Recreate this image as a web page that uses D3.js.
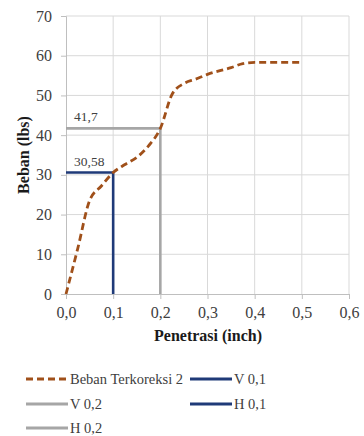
<!DOCTYPE html>
<html>
<head>
<meta charset="utf-8">
<script src="https://cdn.jsdelivr.net/npm/d3@7/dist/d3.min.js"></script>
<style>
  body { margin: 0; background: #fff; }
  svg { display: block; }
</style>
</head>
<body>
<svg id="chart" width="364" height="436"></svg>
<script>
// Penetration (inch) and corrected load (lbs)
const penetrasi = [0, 0.025, 0.05, 0.075, 0.1, 0.125, 0.15, 0.175, 0.2, 0.225, 0.25, 0.275, 0.3, 0.35, 0.375, 0.4, 0.45, 0.5];
const bebanTerkoreksi = [0, 11.5, 23.5, 27.2, 30.58, 32.6, 34.4, 37.3, 41.7, 50.3, 53.0, 54.1, 55.3, 57.0, 58.0, 58.3, 58.3, 58.3];

// Reference reads at 0.1" and 0.2"
const refX = [0.1, 0.2];
const refY = [30.58, 41.7];
const refLabels = ["30,58", "41,7"];

const xTicks = [0, 0.1, 0.2, 0.3, 0.4, 0.5, 0.6];
const yTicks = [0, 10, 20, 30, 40, 50, 60, 70];
const legendNames = ["Beban Terkoreksi 2", "V 0,1", "V 0,2", "H 0,1", "H 0,2"];

const FONT = "'Liberation Serif', 'Times New Roman', serif";
const svg = d3.select("#chart");
const x = d3.scaleLinear().domain([0, 0.6]).range([66, 349]);
const y = d3.scaleLinear().domain([0, 70]).range([294, 16]);

const fmtX = d => d.toFixed(1).replace(".", ",");

// gridlines
svg.append("g").selectAll("line").data(yTicks.slice(1)).join("line")
  .attr("x1", x(0)).attr("x2", x(0.6))
  .attr("y1", d => y(d)).attr("y2", d => y(d))
  .attr("stroke", "#d9d9d9").attr("stroke-width", 1);
svg.append("g").selectAll("line").data(xTicks.slice(1)).join("line")
  .attr("x1", d => x(d)).attr("x2", d => x(d))
  .attr("y1", y(0)).attr("y2", y(70))
  .attr("stroke", "#d9d9d9").attr("stroke-width", 1);

// axes
const yAxis = svg.append("g").attr("transform", `translate(${x(0)},0)`)
  .call(d3.axisLeft(y).tickValues(yTicks).tickSize(5).tickPadding(9).tickFormat(d3.format("d")));
const xAxis = svg.append("g").attr("transform", `translate(0,${y(0)})`)
  .call(d3.axisBottom(x).tickValues(xTicks).tickSize(5).tickPadding(8).tickFormat(fmtX));
[yAxis, xAxis].forEach(g => {
  g.attr("font-family", null).attr("font-size", null);
  g.select(".domain").attr("stroke", "#bfbfbf");
  g.selectAll(".tick line").attr("stroke", "#bfbfbf");
  g.selectAll(".tick text").attr("fill", "#404040")
    .style("font-family", FONT).style("font-size", "16px");
});

// axis titles
svg.append("text").attr("x", 208).attr("y", 341).attr("text-anchor", "middle")
  .style("font-family", FONT).style("font-size", "16px").style("font-weight", "bold")
  .attr("fill", "#1a1a1a").text("Penetrasi (inch)");
svg.append("text").attr("transform", `translate(29,${(y(0) + y(70)) / 2}) rotate(-90)`)
  .attr("text-anchor", "middle")
  .style("font-family", FONT).style("font-size", "16px").style("font-weight", "bold")
  .attr("fill", "#1a1a1a").text("Beban (lbs)");

const blue = "#1f3a78", gray = "#a6a6a6", brown = "#a0501a";
const refColors = [blue, gray];

// vertical and horizontal reference lines
refX.forEach((px, i) => {
  svg.append("line").attr("x1", x(px)).attr("x2", x(px)).attr("y1", y(0)).attr("y2", y(refY[i]))
    .attr("stroke", refColors[i]).attr("stroke-width", 2.6);
  svg.append("line").attr("x1", x(0)).attr("x2", x(px)).attr("y1", y(refY[i])).attr("y2", y(refY[i]))
    .attr("stroke", refColors[i]).attr("stroke-width", 2.6);
  svg.append("text").attr("x", x(0) + 8).attr("y", y(refY[i]) - 7)
    .style("font-family", FONT).style("font-size", "13.5px")
    .attr("fill", "#404040").text(refLabels[i]);
});

// load curve
const line = d3.line().x((d, i) => x(penetrasi[i])).y(d => y(d)).curve(d3.curveMonotoneX);
svg.append("path").datum(bebanTerkoreksi).attr("d", line)
  .attr("fill", "none").attr("stroke", brown).attr("stroke-width", 2.8)
  .attr("stroke-dasharray", "7,4");

// legend
const legendPos = [[26, 379], [190, 379], [26, 404], [190, 404], [26, 428]];
const legendStyle = [
  { c: brown, dash: "7,4" }, { c: blue }, { c: gray }, { c: blue }, { c: gray }
];
legendNames.forEach((name, i) => {
  const [lx, ly] = legendPos[i];
  svg.append("line").attr("x1", lx).attr("x2", lx + 42).attr("y1", ly).attr("y2", ly)
    .attr("stroke", legendStyle[i].c).attr("stroke-width", 2.8)
    .attr("stroke-dasharray", legendStyle[i].dash || null);
  svg.append("text").attr("x", lx + 44).attr("y", ly + 5)
    .style("font-family", FONT).style("font-size", "14.5px")
    .attr("fill", "#404040").text(name);
});
</script>
</body>
</html>
